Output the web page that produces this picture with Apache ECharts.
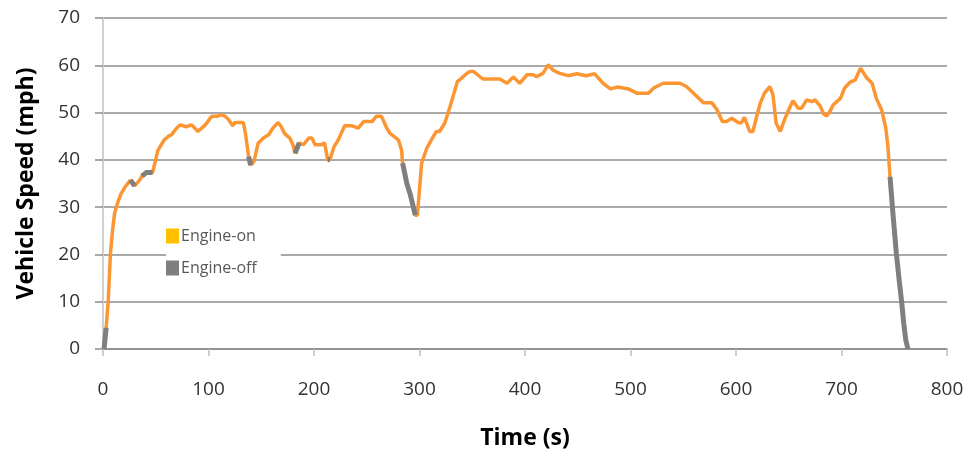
<!DOCTYPE html>
<html>
<head>
<meta charset="utf-8">
<script src="https://cdn.jsdelivr.net/npm/echarts@6/dist/echarts.min.js"></script>
<style>html,body{margin:0;padding:0;background:#fff}#c{width:969px;height:451px}</style>
</head>
<body>
<div id="c"></div>
<script>
// Time (s)
var times = [1,3,5,7,9,11,14,17,21,26,30,32,35,37,41,47,52,58,62,65,69,73,79,84,90,97,103,108,112,116,119,123,125,133,135,138,140,143,147,152,157,161,166,169,172,177,180,182,186,190,195,198,201,207,210,213,215,219,223,229,236,242,247,255,259,264,269,272,280,283,284,288,291,296,298,302,307,313,316,319,324,329,336,340,345,348,351,355,360,376,383,389,395,402,408,411,417,422,427,433,441,449,458,466,474,481,488,498,506,517,522,531,547,553,561,569,577,582,587,591,596,602,605,608,613,616,620,623,627,632,635,638,642,646,650,654,659,662,667,672,675,680,683,686,689,692,699,703,708,713,718,719,724,729,733,738,742,744,746,749,752,755,757,759,761,763];
// Vehicle speed (mph)
var speeds = [0,4.5,10.3,20,25,28.7,31,32.8,34.3,35.7,34.5,35,35.8,36.6,37.3,37.3,42,44.2,45,45.3,46.5,47.4,47,47.4,46,47.4,49.2,49.2,49.5,49.2,48.5,47.2,47.9,47.9,45.6,40.7,38.9,39.6,43.5,44.6,45.3,46.7,47.9,47,45.6,44.6,43.2,41.4,43.6,43.2,44.6,44.6,43.2,43.2,43.6,40,40,42.8,44.2,47.2,47.2,46.7,48.1,48.1,49.2,49.2,46.7,45.6,44.2,42.1,39.3,35,32.9,28.3,28.3,39.3,42.5,44.9,46,46,47.8,51.3,56.6,57.3,58.3,58.7,58.7,58,57.1,57.1,56.2,57.5,56.2,58,58,57.6,58.3,60.1,58.9,58.3,57.8,58.2,57.8,58.2,56.2,55,55.4,55,54.1,54.1,55.2,56.2,56.2,55.5,53.8,52.1,52.1,50.6,48.1,48.1,48.8,47.9,47.8,49,46,46,49.5,52,54.1,55.5,53.8,47.8,46,48.5,50.6,52.5,50.9,50.9,52.7,52.3,52.7,51.3,49.7,49.3,50.2,51.6,53,55.2,56.4,56.9,59.4,59.4,57.3,56.2,53,50.6,46.7,42.8,36.4,28,20.2,13.9,10,5.4,1.8,0];
// Engine-off intervals [start, end] in seconds
var offRanges = [[1,3],[26,30],[37,47],[138,140],[182,186],[213,215],[284,296],[746,763]];
var xTicks = [0,800,100];
var yTicks = [0,70,10];
var seriesNames = ['Engine-on','Engine-off'];

function isOff(t){
  for (var i=0;i<offRanges.length;i++){ if (t>=offRanges[i][0] && t<=offRanges[i][1]) return true; }
  return false;
}
var onData = times.map(function(t,i){ return [t, speeds[i]]; });
var offData = times.map(function(t,i){ return [t, isOff(t) ? speeds[i] : null]; });

var FONT = "'Open Sans', 'Noto Sans', sans-serif";
var chart = echarts.init(document.getElementById('c'), null, {renderer:'canvas'});
chart.setOption({
  animation: false,
  backgroundColor: '#ffffff',
  grid: {left:103, right:22, top:18, bottom:102, containLabel:false, outerBoundsMode:'none'},
  legend: {
    orient: 'vertical', left: 166, top: 226,
    backgroundColor: '#ffffff', padding: [2, 24, 4, 0],
    icon: 'rect', itemWidth: 13, itemHeight: 15, itemGap: 16,
    textStyle: {fontFamily: FONT, fontSize: 16, color: '#595959', padding:[0,0,0,-3]},
    data: [
      {name: seriesNames[0], itemStyle: {color: '#FFC000'}},
      {name: seriesNames[1], itemStyle: {color: '#7F7F7F'}}
    ]
  },
  xAxis: {
    type: 'value', min: xTicks[0], max: xTicks[1], interval: xTicks[2],
    name: 'Time (s)', nameLocation: 'middle', nameGap: 78,
    nameTextStyle: {fontFamily: FONT, fontSize: 23, fontWeight: 'bold', color: '#000'},
    axisLine: {show: true, lineStyle: {color: '#8C8C8C', width: 1.5}},
    axisTick: {show: true, length: 7, lineStyle: {color: '#BFBFBF', width: 1.5}},
    axisLabel: {fontFamily: FONT, fontSize: 19, color: '#333', margin: 31},
    splitLine: {show: false}
  },
  yAxis: {
    type: 'value', min: yTicks[0], max: yTicks[1], interval: yTicks[2],
    name: 'Vehicle Speed (mph)', nameLocation: 'middle', nameGap: 65,
    nameTextStyle: {fontFamily: FONT, fontSize: 23, fontWeight: 'bold', color: '#000'},
    axisLine: {show: true, lineStyle: {color: '#D0D0D0', width: 2}},
    axisTick: {show: true, length: 8, lineStyle: {color: '#8C8C8C', width: 1.5}},
    axisLabel: {fontFamily: FONT, fontSize: 19, color: '#333', margin: 23},
    splitLine: {show: true, lineStyle: {color: '#8C8C8C', width: 1.5}}
  },
  series: [
    {name: seriesNames[0], type: 'line', data: onData, showSymbol: false, symbol: 'none',
     lineStyle: {color: '#FB9633', width: 3.5}, itemStyle: {color: '#FB9633'}, z: 3},
    {name: seriesNames[1], type: 'line', data: offData, showSymbol: false, symbol: 'none', connectNulls: false,
     lineStyle: {color: '#7F7F7F', width: 5}, itemStyle: {color: '#7F7F7F'}, z: 4}
  ]
});
</script>
</body>
</html>
